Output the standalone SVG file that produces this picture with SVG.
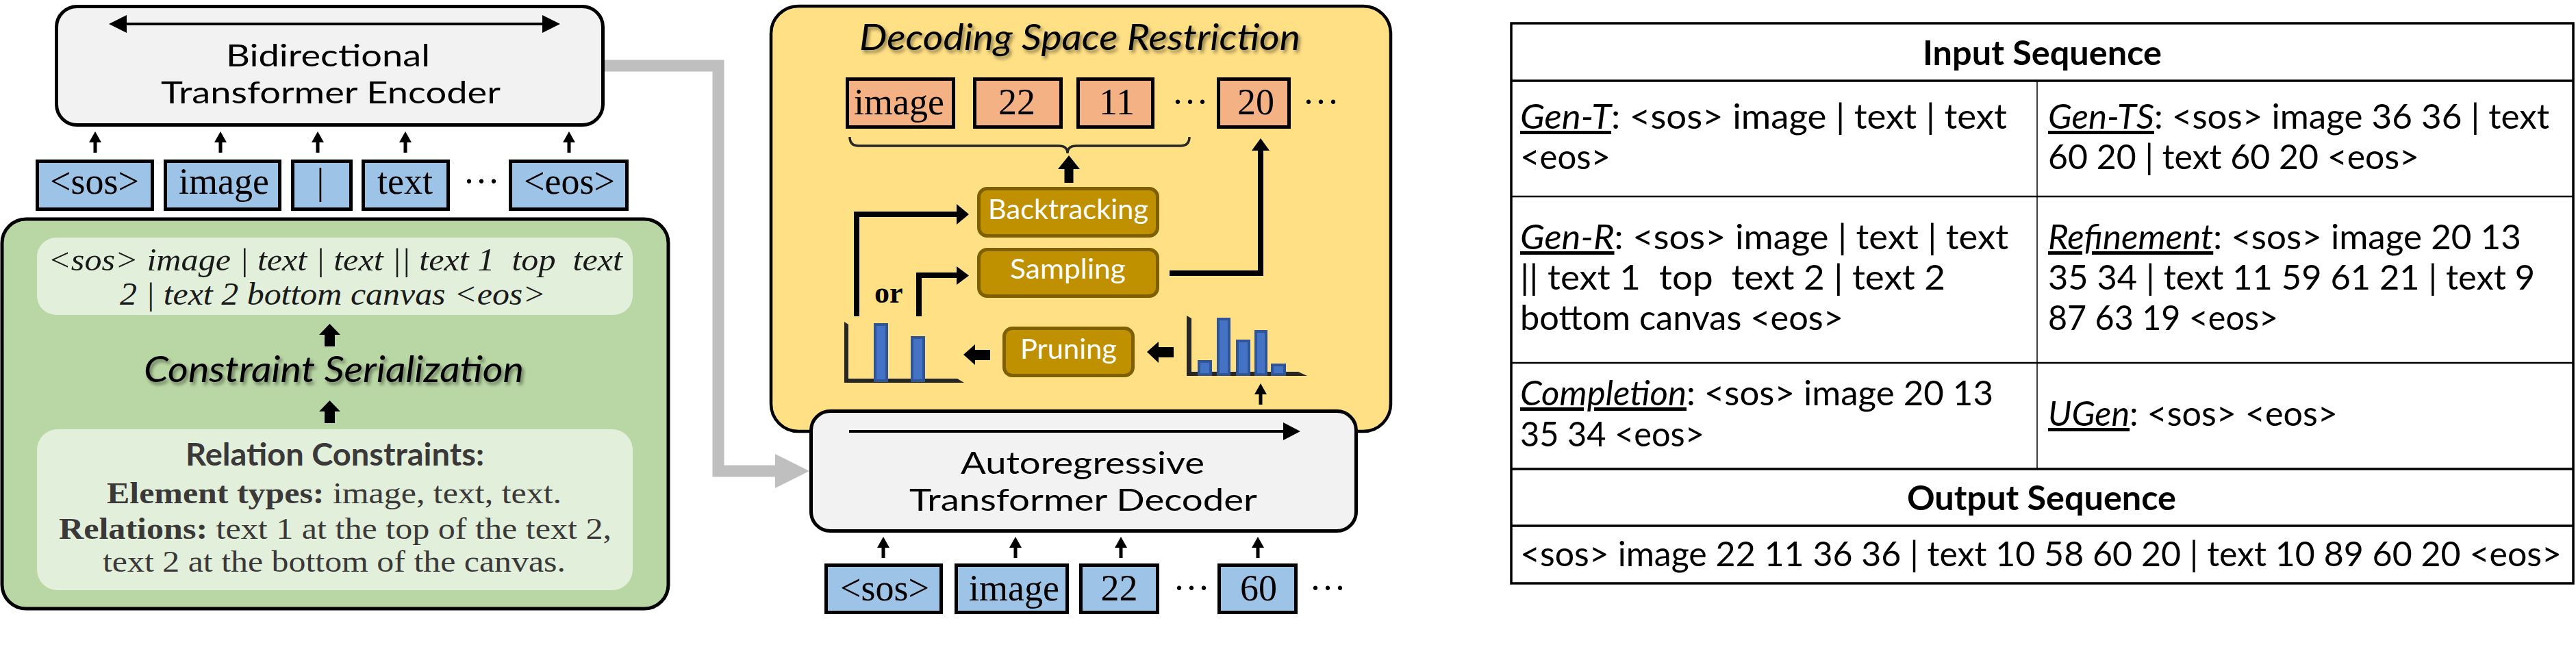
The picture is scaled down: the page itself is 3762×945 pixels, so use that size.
<svg xmlns="http://www.w3.org/2000/svg" width="3762" height="945" viewBox="0 0 3762 945">
<defs>
<style>
.box{fill:#f2f2f2;stroke:#000;stroke-width:5}
.tokb{fill:#9dc3e6;stroke:#000;stroke-width:5}
.toko{fill:#f4b183;stroke:#000;stroke-width:5}
.gold{fill:#bf9000;stroke:#7f6000;stroke-width:5}
.bar{fill:#4472c4;stroke:#2f5597;stroke-width:4}
.axis{fill:#262626}
.tok{font-family:"Liberation Serif","Times New Roman",serif;font-size:54px;text-anchor:middle;fill:#000}
.dots{font-family:"Liberation Serif","Times New Roman",serif;font-size:54px;fill:#000}
.lbl{font-family:Lato,"Liberation Sans",sans-serif;font-size:45px;fill:#000}
.gl{font-family:Lato,"Liberation Sans",sans-serif;font-size:41px;fill:#fff}
.tbl{font-family:Lato,"Liberation Sans",sans-serif;font-size:50px;fill:#000}
.hd{font-weight:bold}
.u{font-style:italic;text-decoration:underline}
.title{font-family:Lato,"Liberation Sans",sans-serif;font-style:italic;font-size:52px;fill:#000;filter:url(#sh)}
.ital{font-family:"Liberation Serif","Times New Roman",serif;font-style:italic;font-size:46px;fill:#1a1a1a}
.rc{font-family:"Liberation Serif","Times New Roman",serif;font-size:45px;fill:#3a3838}
.rch{font-family:Lato,"Liberation Sans",sans-serif;font-weight:bold;font-size:45px;fill:#3a3838}
.thick{fill:none;stroke:#000;stroke-width:8}
.gray{fill:none;stroke:#bfbfbf;stroke-width:17}
.tline{stroke:#000;fill:none}
</style>
<filter id="sh" x="-5%" y="-30%" width="110%" height="170%">
<feDropShadow dx="3" dy="4" stdDeviation="2.5" flood-color="#000" flood-opacity="0.45"/>
</filter>
<path id="sa" d="M-2.5,31 V16 H-9 L0,0 L9,16 H2.5 V31 Z"/>
<path id="ta" d="M-7.5,33 V16 H-15.5 L0,0 L15.5,16 H7.5 V33 Z"/>
</defs>
<rect x="0" y="0" width="3762" height="945" fill="#fff"/>

<g id="constraint-panel">
<rect x="3" y="320" width="973" height="569" rx="35" fill="#b9d7a4" stroke="#000" stroke-width="5"/>
<rect x="54" y="347" width="870" height="113" rx="28" fill="#e2efda"/>
<text class="ital" x="70" y="395" textLength="839" lengthAdjust="spacingAndGlyphs">&lt;sos&gt; image | text | text || text 1 &#160;top &#160;text</text>
<text class="ital" x="175" y="445" textLength="622" lengthAdjust="spacingAndGlyphs">2 | text 2 bottom canvas &lt;eos&gt;</text>
<text class="title" x="210" y="558" textLength="555" lengthAdjust="spacingAndGlyphs">Constraint Serialization</text>
<rect x="54" y="627" width="870" height="235" rx="30" fill="#e2efda"/>
<text class="rch" x="271" y="680" textLength="436" lengthAdjust="spacingAndGlyphs">Relation Constraints:</text>
<text class="rc" x="156" y="735" textLength="664" lengthAdjust="spacingAndGlyphs"><tspan font-weight="bold">Element types:</tspan> image, text, text.</text>
<text class="rc" x="86" y="787" textLength="807" lengthAdjust="spacingAndGlyphs"><tspan font-weight="bold">Relations:</tspan> text 1 at the top of the text 2,</text>
<text class="rc" x="150" y="835" textLength="676" lengthAdjust="spacingAndGlyphs">text 2 at the bottom of the canvas.</text>
</g>

<g id="encoder">
<rect class="box" x="82.5" y="9.5" width="798" height="173" rx="30"/>
<line x1="180" y1="35" x2="797" y2="35" stroke="#000" stroke-width="4"/>
<polygon points="159,35 185,22 185,48"/>
<polygon points="818,35 792,22 792,48"/>
<text class="lbl"><tspan x="330" y="97" textLength="298" lengthAdjust="spacingAndGlyphs">Bidirectional</tspan><tspan x="235" y="151" textLength="496" lengthAdjust="spacingAndGlyphs">Transformer Encoder</tspan></text>
</g>

<g id="encoder-tokens">
<rect class="tokb" x="54.5" y="235.5" width="168" height="70"/>
<rect class="tokb" x="241.5" y="235.5" width="167" height="70"/>
<rect class="tokb" x="427.5" y="235.5" width="85" height="70"/>
<rect class="tokb" x="530.5" y="235.5" width="124" height="70"/>
<rect class="tokb" x="745.5" y="235.5" width="170" height="70"/>
<text class="tok" x="138" y="283">&lt;sos&gt;</text>
<text class="tok" x="327" y="283">image</text>
<text class="tok" x="468" y="283">|</text>
<text class="tok" x="591.5" y="283">text</text>
<text class="tok" x="831.5" y="283">&lt;eos&gt;</text>
<text class="dots" x="676" y="283">···</text>
</g>

<g id="decoding-space-restriction">
<rect x="1126" y="9" width="905" height="621" rx="40" fill="#ffe085" stroke="#000" stroke-width="4.5"/>
<text class="title" x="1255" y="73" textLength="644" lengthAdjust="spacingAndGlyphs" font-size="50">Decoding Space Restriction</text>
<rect class="toko" x="1237.5" y="115.5" width="155" height="70"/>
<rect class="toko" x="1423.5" y="115.5" width="126" height="70"/>
<rect class="toko" x="1574.5" y="115.5" width="109" height="70"/>
<rect class="toko" x="1779.5" y="115.5" width="103" height="70"/>
<text class="tok" x="1313" y="167">image</text>
<text class="tok" x="1485" y="167">22</text>
<text class="tok" x="1631" y="167">11</text>
<text class="tok" x="1834" y="167">20</text>
<text class="dots" x="1711" y="167">···</text>
<text class="dots" x="1902" y="167">···</text>
<path d="M1241,200 Q1241,213 1254,213 H1546 Q1559,213 1559,224 Q1559,213 1572,213 H1724 Q1737,213 1737,200" fill="none" stroke="#262626" stroke-width="3.5"/>
</g>

<g id="backtracking">
<rect class="gold" x="1429.5" y="275.5" width="261" height="69" rx="12"/>
<text class="gl" x="1443" y="320" textLength="234" lengthAdjust="spacingAndGlyphs">Backtracking</text>
</g>
<g id="sampling">
<rect class="gold" x="1429.5" y="364.5" width="261" height="68" rx="12"/>
<text class="gl" x="1475" y="407" textLength="169" lengthAdjust="spacingAndGlyphs">Sampling</text>
</g>
<g id="pruning">
<rect class="gold" x="1466.5" y="479.5" width="188" height="69" rx="12"/>
<text class="gl" x="1490" y="524" textLength="141" lengthAdjust="spacingAndGlyphs">Pruning</text>
</g>

<g id="pruned-distribution">
<polygon class="axis" points="1233,470 1239,474 1239,553 1398,553 1408,559 1233,559"/>
<rect class="bar" x="1278" y="474" width="17" height="82"/>
<rect class="bar" x="1332" y="493" width="17" height="63"/>
</g>
<g id="full-distribution">
<polygon class="axis" points="1733,461 1740,465 1740,543 1896,543 1909,549 1733,549"/>
<rect class="bar" x="1751" y="528" width="17" height="19"/>
<rect class="bar" x="1779" y="466" width="16" height="81"/>
<rect class="bar" x="1807" y="498" width="17" height="49"/>
<rect class="bar" x="1834" y="484" width="15" height="63"/>
<rect class="bar" x="1858" y="533" width="18" height="14"/>
</g>

<g id="decoder">
<rect class="box" x="1184.5" y="600.5" width="796" height="175" rx="28"/>
<line x1="1240" y1="630" x2="1876" y2="630" stroke="#000" stroke-width="4"/>
<polygon points="1899,630 1874,617 1874,643"/>
<text class="lbl"><tspan x="1403" y="692" textLength="356" lengthAdjust="spacingAndGlyphs">Autoregressive</tspan><tspan x="1328" y="746" textLength="508" lengthAdjust="spacingAndGlyphs">Transformer Decoder</tspan></text>
</g>

<g id="decoder-tokens">
<rect class="tokb" x="1206.5" y="825.5" width="168" height="69"/>
<rect class="tokb" x="1396.5" y="825.5" width="162" height="69"/>
<rect class="tokb" x="1578.5" y="825.5" width="112" height="69"/>
<rect class="tokb" x="1780.5" y="825.5" width="112" height="69"/>
<text class="tok" x="1292" y="877">&lt;sos&gt;</text>
<text class="tok" x="1481" y="877">image</text>
<text class="tok" x="1634.5" y="877">22</text>
<text class="tok" x="1838" y="877">60</text>
<text class="dots" x="1713" y="877">···</text>
<text class="dots" x="1912" y="877">···</text>
</g>

<g id="or-label">
<text x="1277" y="442" font-family="Liberation Serif, Times New Roman, serif" font-weight="bold" font-size="44">or</text>
</g>

<g id="connectors">
<path class="gray" d="M883,96 H1049 V688 H1134"/>
<polygon points="1132,663 1182,688 1132,713" fill="#bfbfbf"/>
<use href="#sa" x="139" y="192"/>
<use href="#sa" x="322" y="192"/>
<use href="#sa" x="464" y="192"/>
<use href="#sa" x="592" y="192"/>
<use href="#sa" x="831" y="192"/>
<use href="#sa" x="1290" y="784"/>
<use href="#sa" x="1483" y="784"/>
<use href="#sa" x="1637" y="784"/>
<use href="#sa" x="1837" y="784"/>
<use href="#sa" x="1841" y="560"/>
<use href="#ta" x="481.5" y="473"/>
<use href="#ta" x="481.5" y="585"/>
<path d="M1554.5,267 V247 H1545 L1561,227 L1577,247 H1567.5 V267 Z"/>
<path class="thick" d="M1251,462 V313 H1400"/>
<polygon points="1397,298 1415,313 1397,328"/>
<path class="thick" d="M1342,462 V402 H1400"/>
<polygon points="1397,389 1415,402.5 1397,416"/>
<path class="thick" d="M1708,399 H1841 V218"/>
<polygon points="1828,220 1841,202 1854,220"/>
<polygon points="1407,518 1424,503 1424,511 1446,511 1446,526 1424,526 1424,533"/>
<polygon points="1675,514 1692,499 1692,507 1714,507 1714,522 1692,522 1692,530"/>
</g>

<g id="task-table">
<rect x="2207" y="34" width="1551" height="818" fill="none" stroke="#000" stroke-width="3.5"/>
<line class="tline" x1="2207" y1="118" x2="3758" y2="118" stroke-width="3.5"/>
<line class="tline" x1="2207" y1="287" x2="3758" y2="287" stroke-width="2.5"/>
<line class="tline" x1="2207" y1="530" x2="3758" y2="530" stroke-width="2.5"/>
<line class="tline" x1="2207" y1="685" x2="3758" y2="685" stroke-width="3.5"/>
<line class="tline" x1="2207" y1="768" x2="3758" y2="768" stroke-width="3.5"/>
<line class="tline" x1="2975" y1="118" x2="2975" y2="685" stroke-width="1.5"/>
<text class="tbl hd" x="2808" y="95" textLength="349" lengthAdjust="spacingAndGlyphs">Input Sequence</text>
<text class="tbl" x="2220" y="188" textLength="711" lengthAdjust="spacingAndGlyphs"><tspan class="u">Gen-T</tspan>: &lt;sos&gt; image | text | text</text>
<text class="tbl" x="2220" y="247" textLength="132" lengthAdjust="spacingAndGlyphs">&lt;eos&gt;</text>
<text class="tbl" x="2991" y="188" textLength="732" lengthAdjust="spacingAndGlyphs"><tspan class="u">Gen-TS</tspan>: &lt;sos&gt; image 36 36 | text</text>
<text class="tbl" x="2991" y="247" textLength="542" lengthAdjust="spacingAndGlyphs">60 20 | text 60 20 &lt;eos&gt;</text>
<text class="tbl" x="2220" y="364" textLength="713" lengthAdjust="spacingAndGlyphs"><tspan class="u">Gen-R</tspan>: &lt;sos&gt; image | text | text</text>
<text class="tbl" x="2220" y="423" textLength="621" lengthAdjust="spacingAndGlyphs">|| text 1 &#160;top &#160;text 2 | text 2</text>
<text class="tbl" x="2220" y="482" textLength="472" lengthAdjust="spacingAndGlyphs">bottom canvas &lt;eos&gt;</text>
<text class="tbl" x="2991" y="364" textLength="691" lengthAdjust="spacingAndGlyphs"><tspan class="u">Refinement</tspan>: &lt;sos&gt; image 20 13</text>
<text class="tbl" x="2991" y="423" textLength="711" lengthAdjust="spacingAndGlyphs">35 34 | text 11 59 61 21 | text 9</text>
<text class="tbl" x="2991" y="482" textLength="336" lengthAdjust="spacingAndGlyphs">87 63 19 &lt;eos&gt;</text>
<text class="tbl" x="2220" y="592" textLength="691" lengthAdjust="spacingAndGlyphs"><tspan class="u">Completion</tspan>: &lt;sos&gt; image 20 13</text>
<text class="tbl" x="2220" y="652" textLength="269" lengthAdjust="spacingAndGlyphs">35 34 &lt;eos&gt;</text>
<text class="tbl" x="2991" y="622" textLength="423" lengthAdjust="spacingAndGlyphs"><tspan class="u">UGen</tspan>: &lt;sos&gt; &lt;eos&gt;</text>
<text class="tbl hd" x="2785" y="745" textLength="393" lengthAdjust="spacingAndGlyphs">Output Sequence</text>
<text class="tbl" x="2220" y="827" textLength="1521" lengthAdjust="spacingAndGlyphs">&lt;sos&gt; image 22 11 36 36 | text 10 58 60 20 | text 10 89 60 20 &lt;eos&gt;</text>
</g>
</svg>
